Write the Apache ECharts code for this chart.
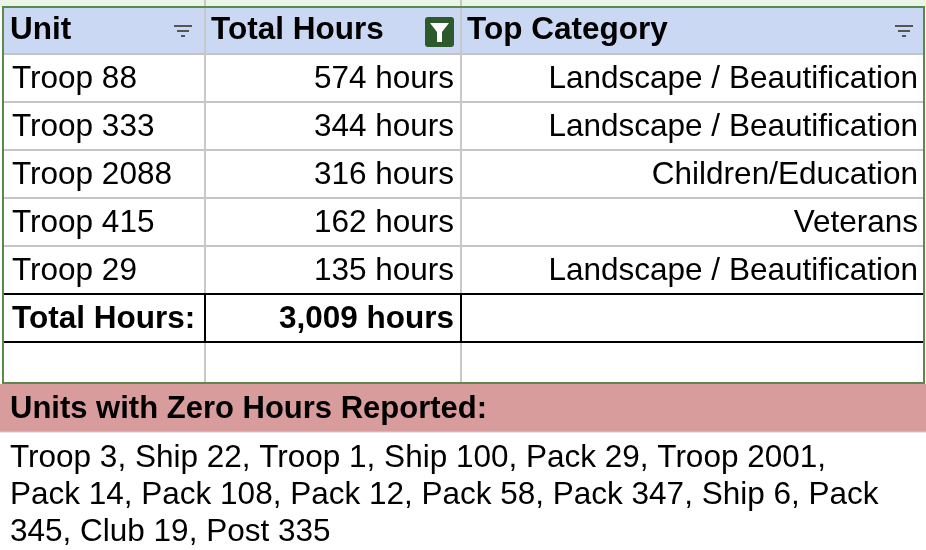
<!DOCTYPE html>
<html><head><meta charset="utf-8">
<script src="https://cdn.jsdelivr.net/npm/echarts@6/dist/echarts.min.js"></script>
<style>html,body{margin:0;padding:0;background:#fff}#c{width:926px;height:550px}</style>
</head><body><div id="c"></div>
<script>
const headers = ['Unit', 'Total Hours', 'Top Category'];
const units = ['Troop 88', 'Troop 333', 'Troop 2088', 'Troop 415', 'Troop 29'];
const hours = [574, 344, 316, 162, 135];
const categories = ['Landscape / Beautification', 'Landscape / Beautification', 'Children/Education', 'Veterans', 'Landscape / Beautification'];
const totalLabel = 'Total Hours:';
const totalHours = 3009;
const zeroTitle = 'Units with Zero Hours Reported:';
const zeroLines = ['Troop 3, Ship 22, Troop 1, Ship 100, Pack 29, Troop 2001,', 'Pack 14, Pack 108, Pack 12, Pack 58, Pack 347, Ship 6, Pack', '345, Club 19, Post 335'];

const chart = echarts.init(document.getElementById('c'), null, {renderer: 'canvas'});
const F = '"Liberation Sans", Arial, sans-serif';
const FS = '31.5px ';
const colX = [4, 205, 461, 924];
const rowY = [7, 54, 102, 150, 198, 246, 294, 342, 383];
const g = [];
const fmt = n => n.toLocaleString('en-US') + ' hours';
g.push({type:'rect', shape:{x:0,y:0,width:926,height:7}, style:{fill:'#eaf4e8'}});
g.push({type:'rect', shape:{x:colX[0],y:rowY[0],width:colX[3]-colX[0],height:rowY[1]-rowY[0]}, style:{fill:'#cad8f3'}});
for (let i=1;i<rowY.length-1;i++) g.push({type:'line', shape:{x1:colX[0],y1:rowY[i],x2:colX[3],y2:rowY[i]}, style:{stroke:'#c4c4c4',lineWidth:2}});
for (let j=1;j<3;j++) g.push({type:'line', shape:{x1:colX[j],y1:0,x2:colX[j],y2:rowY[8]}, style:{stroke:'#c8c8c8',lineWidth:2}});
g.push({type:'line', shape:{x1:colX[0],y1:294,x2:colX[3],y2:294}, style:{stroke:'#000',lineWidth:2}});
g.push({type:'line', shape:{x1:colX[0],y1:342,x2:colX[3],y2:342}, style:{stroke:'#000',lineWidth:2}});
for (let j=1;j<3;j++) g.push({type:'line', shape:{x1:colX[j],y1:294,x2:colX[j],y2:342}, style:{stroke:'#000',lineWidth:2}});
g.push({type:'rect', shape:{x:3,y:7,width:921,height:376}, style:{fill:null,stroke:'#5a8a4a',lineWidth:2}});
g.push({type:'rect', shape:{x:0,y:384,width:926,height:48}, style:{fill:'#d89c9c'}});
g.push({type:'line', shape:{x1:0,y1:432,x2:926,y2:432}, style:{stroke:'#d0d0d0',lineWidth:1}});
headers.forEach((h,j)=>g.push({type:'text', x:colX[j]+6, y:(rowY[0]+rowY[1])/2, style:{text:h,font:'bold '+FS+F,fill:'#000',align:'left',verticalAlign:'middle'}}));
[[183,31],[904,31]].forEach(([cx,cy])=>{
  [[-9,9,-5],[-6,6,0],[-2,2,5]].forEach(([a,b,dy])=>g.push({type:'line',shape:{x1:cx+a,y1:cy+dy,x2:cx+b,y2:cy+dy},style:{stroke:'#555',lineWidth:2}}));
});
g.push({type:'rect', shape:{x:425,y:17,width:29,height:30,r:3}, style:{fill:'#2d5a2b'}});
g.push({type:'polygon', shape:{points:[[430,23],[449,23],[442,32],[442,42],[437,42],[437,32]]}, style:{fill:'#fff'}});
units.forEach((u,i)=>{
  const cy=(rowY[i+1]+rowY[i+2])/2+1;
  g.push({type:'text', x:colX[0]+8, y:cy, style:{text:u,font:FS+F,fill:'#000',verticalAlign:'middle'}});
  g.push({type:'text', x:colX[2]-7, y:cy, style:{text:fmt(hours[i]),font:FS+F,fill:'#000',align:'right',verticalAlign:'middle'}});
  g.push({type:'text', x:colX[3]-6, y:cy, style:{text:categories[i],font:FS+F,fill:'#000',align:'right',verticalAlign:'middle'}});
});
g.push({type:'text', x:colX[0]+8, y:319, style:{text:totalLabel,font:'bold '+FS+F,fill:'#000',verticalAlign:'middle'}});
g.push({type:'text', x:colX[2]-7, y:319, style:{text:fmt(totalHours),font:'bold '+FS+F,fill:'#000',align:'right',verticalAlign:'middle'}});
g.push({type:'text', x:10, y:409, style:{text:zeroTitle,font:'bold 31px '+F,fill:'#000',verticalAlign:'middle'}});
zeroLines.forEach((l,i)=>g.push({type:'text', x:10, y:458+i*37, style:{text:l,font:FS+F,fill:'#000',verticalAlign:'middle'}}));
chart.setOption({animation:false, graphic:{elements:g}});
</script></body></html>
